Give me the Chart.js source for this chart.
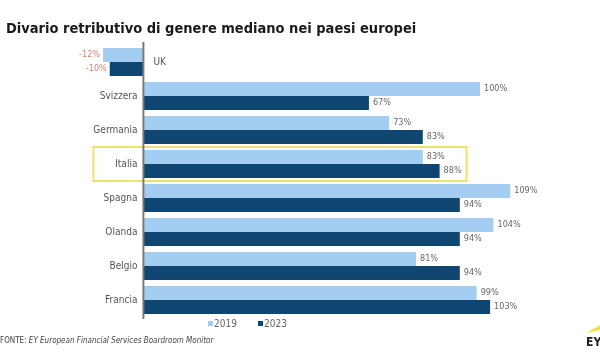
<!DOCTYPE html>
<html>
<head>
<meta charset="utf-8">
<script src="https://cdn.jsdelivr.net/npm/chart.js@4.4.1/dist/chart.umd.min.js"></script>
<style>
  html, body { margin: 0; padding: 0; background: #fff; }
  #wrap { position: relative; width: 600px; height: 360px; }
</style>
</head>
<body>
<div id="wrap"><canvas id="myChart" width="600" height="360"></canvas></div>
<script>
const categories = ['UK', 'Svizzera', 'Germania', 'Italia', 'Spagna', 'Olanda', 'Belgio', 'Francia'];
const gap2019 = [-12, 100, 73, 83, 109, 104, 81, 99];
const gap2023 = [-10, 67, 83, 88, 94, 94, 94, 103];
const seriesLabels = ['2019', '2023'];
const highlighted = 'Italia';

const lightBlue = 'rgb(163,206,241)';
const darkBlue = 'rgb(14,69,113)';
const font = "'DejaVu Sans Condensed', 'DejaVu Sans', sans-serif";

//draws title, axis line, labels, legend, source
const decorations = {
	id: 'decorations',
	afterDatasetsDraw(chart) {
		const ctx = chart.ctx;
		const xs = chart.scales.x;
		const ys = chart.scales.y;
		const area = chart.chartArea;
		const zero = xs.getPixelForValue(0);
		ctx.save();

		//highlight box
		const i = categories.indexOf(highlighted);
		const yc = ys.getPixelForValue(i);
		ctx.strokeStyle = 'rgb(236,226,110)';
		ctx.lineWidth = 2;
		ctx.strokeRect(zero - 50, yc - 17, xs.getPixelForValue(96) - zero + 50, 34);

		//axis line
		ctx.strokeStyle = '#7a7a7a';
		ctx.lineWidth = 2;
		ctx.beginPath();
		ctx.moveTo(zero, area.top - 3);
		ctx.lineTo(zero, area.bottom + 2);
		ctx.stroke();

		//category labels
		ctx.font = '10px ' + font;
		ctx.fillStyle = '#555';
		ctx.textBaseline = 'middle';
		categories.forEach((c, k) => {
			const y = ys.getPixelForValue(k);
			if (gap2019[k] < 0) {
				ctx.textAlign = 'left';
				ctx.fillText(c, zero + 10, y);
			} else {
				ctx.textAlign = 'right';
				ctx.fillText(c, zero - 6, y);
			}
		});

		//value labels
		ctx.font = '9px ' + font;
		chart.data.datasets.forEach((ds, d) => {
			const meta = chart.getDatasetMeta(d);
			meta.data.forEach((bar, k) => {
				const v = ds.data[k];
				if (v < 0) {
					ctx.fillStyle = 'rgb(214,130,112)';
					ctx.textAlign = 'right';
					ctx.fillText(v + '%', bar.x - 3, bar.y);
				} else {
					ctx.fillStyle = '#666';
					ctx.textAlign = 'left';
					ctx.fillText(v + '%', bar.x + 4, bar.y);
				}
			});
		});

		//legend
		const legX = [208, 258];
		ctx.font = '10px ' + font;
		ctx.textAlign = 'left';
		seriesLabels.forEach((s, d) => {
			ctx.fillStyle = chart.data.datasets[d].backgroundColor;
			ctx.fillRect(legX[d], 321, 5, 5);
			ctx.fillStyle = '#666';
			ctx.fillText(s, legX[d] + 6, 324);
		});

		//title
		ctx.fillStyle = '#1a1a1a';
		ctx.font = 'bold 14.5px ' + font;
		ctx.textBaseline = 'alphabetic';
		ctx.fillText('Divario retributivo di genere mediano nei paesi europei', 6, 33);

		//source
		ctx.fillStyle = '#444';
		ctx.font = '8px ' + font;
		ctx.fillText('FONTE:', 0, 343);
		const w = ctx.measureText('FONTE: ').width;
		ctx.font = 'italic 8px ' + font;
		ctx.fillText('EY European Financial Services Boardroom Monitor', w, 343);

		//logo
		ctx.fillStyle = '#f5e23a';
		ctx.beginPath();
		ctx.moveTo(586, 333);
		ctx.lineTo(600, 325);
		ctx.lineTo(600, 330);
		ctx.closePath();
		ctx.fill();
		ctx.fillStyle = '#222';
		ctx.font = 'bold 12px ' + font;
		ctx.fillText('EY', 586, 346);

		ctx.restore();
	}
};

const ctx = document.getElementById('myChart');
const mixedChart = new Chart(ctx, {
	type: 'bar',
	data: {
		labels: categories,
		datasets: [
			{
				label: seriesLabels[0],
				data: gap2019,
				backgroundColor: lightBlue,
				categoryPercentage: 0.82,
				barPercentage: 1.0
			},
			{
				label: seriesLabels[1],
				data: gap2023,
				backgroundColor: darkBlue,
				categoryPercentage: 0.82,
				barPercentage: 1.0
			}
		]
	},
	options: {
		indexAxis: 'y',
		responsive: false,
		animation: false,
		layout: {
			padding: { left: 103, right: 19, top: 45, bottom: 43 }
		},
		scales: {
			x: {
				display: false,
				min: -12,
				max: 130
			},
			y: {
				display: false
			}
		},
		plugins: {
			legend: { display: false },
			tooltip: { enabled: false }
		}
	},
	plugins: [decorations]
});
</script>
</body>
</html>
